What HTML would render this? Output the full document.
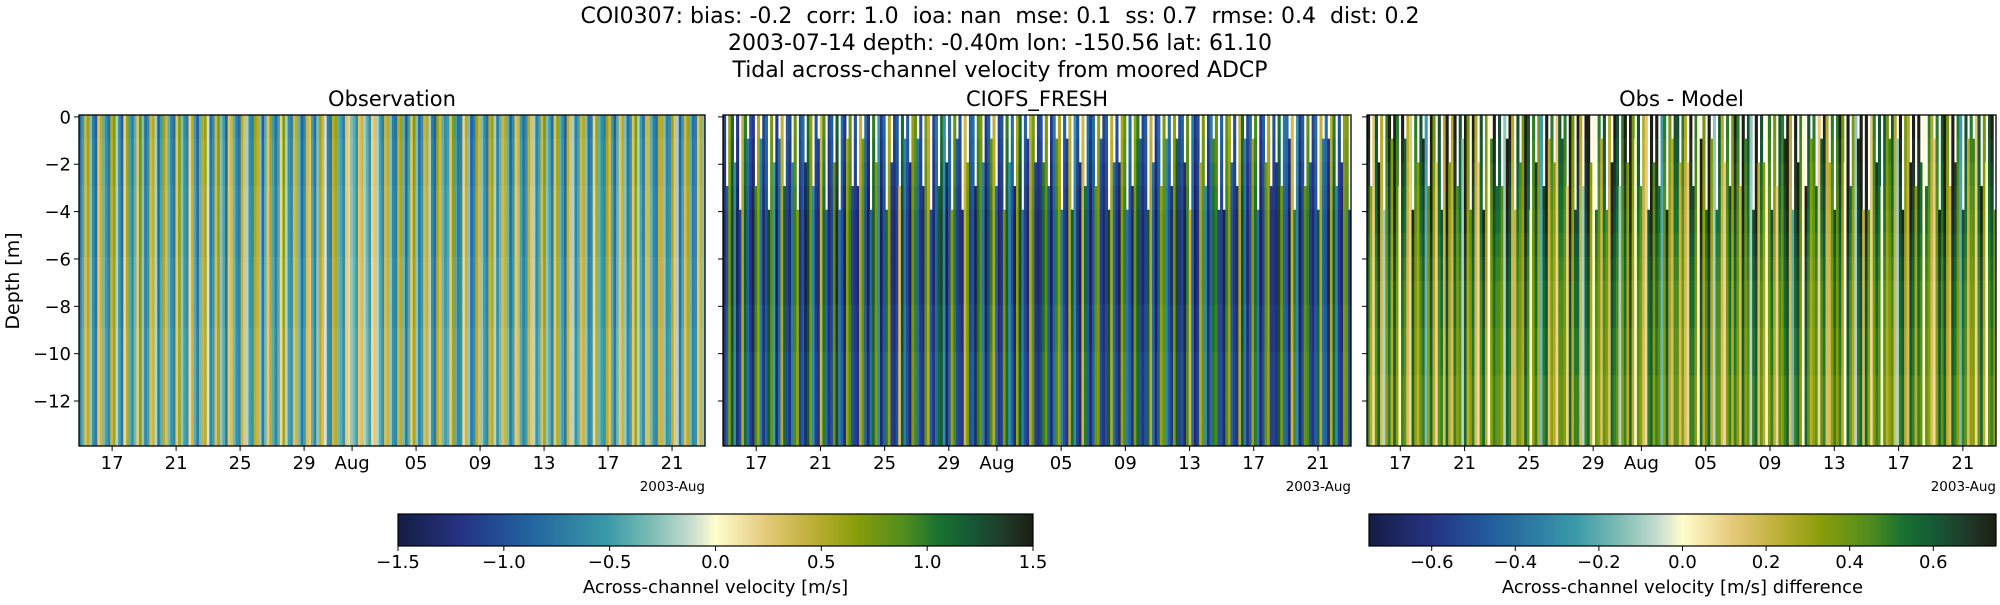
<!DOCTYPE html>
<html><head><meta charset="utf-8">
<style>
body{margin:0;background:#fff;}
svg text{font-family:"DejaVu Sans","Liberation Sans",sans-serif;fill:#000;white-space:pre;}
</style></head>
<body>
<svg id="fig" width="2000" height="600" viewBox="0 0 2000 600" xmlns="http://www.w3.org/2000/svg">
<defs>
<linearGradient id="cm" x1="0" x2="1" y1="0" y2="0">
<stop offset="0" stop-color="#151d44"/><stop offset="0.1" stop-color="#253383"/>
<stop offset="0.2" stop-color="#22609e"/><stop offset="0.33" stop-color="#3a9aa8"/>
<stop offset="0.4" stop-color="#7dbdb4"/><stop offset="0.46" stop-color="#c5dcd0"/>
<stop offset="0.5" stop-color="#fffdcd"/><stop offset="0.58" stop-color="#e5c97a"/>
<stop offset="0.66" stop-color="#b9ad32"/><stop offset="0.72" stop-color="#8a9e0a"/>
<stop offset="0.8" stop-color="#4f8c1e"/><stop offset="0.85" stop-color="#1a7230"/>
<stop offset="0.9" stop-color="#155a35"/><stop offset="0.95" stop-color="#1f3d2a"/>
<stop offset="1" stop-color="#1d1f14"/>
</linearGradient>
</defs>
<text x="1000" y="23" font-size="22" text-anchor="middle" xml:space="preserve">COI0307: bias: -0.2  corr: 1.0  ioa: nan  mse: 0.1  ss: 0.7  rmse: 0.4  dist: 0.2</text>
<text x="1000" y="50" font-size="22" text-anchor="middle">2003-07-14 depth: -0.40m lon: -150.56 lat: 61.10</text>
<text x="1000" y="77" font-size="22" text-anchor="middle">Tidal across-channel velocity from moored ADCP</text>
<text x="0" y="0" font-size="19" text-anchor="middle" transform="translate(19,281) rotate(-90)">Depth [m]</text>
<g id="panels"></g>
<g id="cbars"></g>
</svg>
<script>
// ---- data ----
const obsValues = [
-0.8,-0.5,0.4,0.6,-0.3,-0.7,-0.9,0.3,0.5,-0.4,
-0.6,-0.8,0.5,0.7,-0.2,-0.6,-0.9,0.2,0.6,-0.5,
-0.7,-0.4,0.3,0.8,-0.3,-0.8,-0.6,0.4,0.5,-0.2,
-0.9,-0.5,0.6,0.4,-0.4,-0.7,-0.8,0.3,0.7,-0.3,
-0.6,-0.7,0.2,0.5,-0.5,-0.9,-0.4,0.5,0.6,-0.1,
-0.8,-0.6,0.4,0.7,-0.3,-0.5,-0.9,0.3,0.4,-0.4,
-0.7,-0.8,0.5,0.3,-0.2,-0.6,-0.7,0.6,0.5,-0.3,
-0.9,-0.4,0.3,0.6,-0.5,-0.8,-0.5,0.2,0.7,-0.2,
-0.6,-0.7,0.4,0.5,-0.4,-0.9,-0.6,0.4,0.3,-0.5,
-0.8,-0.3,0.6,0.4,-0.1,-0.7,-0.8,0.5,0.6,-0.4,
-0.5,-0.7,0.3,0.2,-0.3,-0.4,-0.6,0.3,0.4,-0.2,
-0.4,-0.6,0.2,0.3,-0.2,-0.5,-0.7,0.4,0.5,-0.3,
-0.7,-0.8,0.5,0.6,-0.4,-0.9,-0.5,0.3,0.7,-0.3,
-0.8,-0.6,0.4,0.5,-0.2,-0.7,-0.9,0.6,0.4,-0.4,
-0.6,-0.5,0.3,0.7,-0.5,-0.8,-0.7,0.2,0.5,-0.3,
-0.9,-0.7,0.6,0.4,-0.3,-0.6,-0.8,0.5,0.6,-0.2,
-0.7,-0.4,0.4,0.5,-0.4,-0.9,-0.6,0.3,0.4,-0.5,
-0.8,-0.6,0.5,0.3,-0.2,-0.7,-0.5,0.4,0.7,-0.3,
-0.5,-0.8,0.3,0.6,-0.4,-0.6,-0.9,0.5,0.3,-0.2,
-0.7,-0.5,0.4,0.5,-0.3,-0.8,-0.7,0.2,0.6,-0.4,
-0.6,-0.7,0.6,0.4,-0.5,-0.9,-0.4,0.3,0.5,-0.3,
-0.8,-0.6,0.3,0.7,-0.2,-0.5,-0.8,0.4,0.4,-0.4,
-0.7,-0.8,0.5,0.5,-0.3,-0.7,-0.6,0.6,0.3,-0.2,
-0.9,-0.5,0.4,0.6,-0.4,-0.8,-0.7,0.3,0.5,-0.3];
const modelValues = [
-1.2,-0.9,0.7,1.2,-0.6,-1.3,-1.0,0.5,1.1,-0.8,
-1.1,-1.3,0.9,0.6,-0.7,-1.2,-0.9,1.2,0.8,-0.5,
-1.3,-0.8,0.5,1.1,-1.0,-1.2,-0.7,0.9,0.6,-1.1,
-0.9,-1.3,1.2,0.7,-0.6,-1.1,-1.2,0.4,1.0,-0.8,
-1.2,-1.0,0.8,1.3,-0.7,-0.9,-1.3,0.6,0.9,-1.0,
-1.1,-1.2,0.5,0.8,-0.9,-1.3,-0.8,1.1,0.7,-0.6,
-1.3,-0.9,1.0,0.6,-1.1,-1.2,-1.0,0.3,1.2,-0.7,
-1.0,-1.3,0.7,0.9,-0.8,-1.1,-1.2,0.8,0.5,-0.9,
-1.2,-0.8,1.1,1.2,-0.6,-1.3,-0.9,0.6,0.9,-1.0,
-1.1,-1.2,0.4,0.7,-1.0,-0.9,-1.3,1.0,0.8,-0.7,
-1.3,-1.0,0.9,0.5,-0.8,-1.2,-1.1,0.7,1.1,-0.6,
-0.9,-1.3,0.6,1.2,-0.7,-1.0,-1.2,0.5,0.8,-1.1,
-1.2,-1.1,1.0,0.8,-0.9,-1.3,-0.8,0.9,0.6,-0.7,
-1.0,-1.2,0.5,1.1,-0.6,-1.1,-1.3,0.4,1.0,-0.9,
-1.3,-0.9,0.8,0.7,-1.0,-1.2,-1.0,1.2,0.5,-0.8,
-1.1,-1.3,0.6,0.9,-0.7,-0.9,-1.2,0.7,1.1,-1.0,
-1.2,-1.0,1.1,0.5,-0.8,-1.3,-0.9,0.6,0.8,-0.6,
-0.9,-1.2,0.7,1.2,-1.1,-1.0,-1.3,0.9,0.4,-0.8,
-1.3,-1.1,0.5,0.8,-0.6,-1.2,-0.8,1.0,0.9,-1.0,
-1.0,-1.3,0.9,0.6,-0.9,-1.1,-1.2,0.5,1.2,-0.7,
-1.2,-0.9,0.6,1.0,-0.7,-1.3,-1.0,0.8,0.6,-1.1,
-1.1,-1.2,1.2,0.7,-0.8,-0.9,-1.3,0.4,0.9,-0.6,
-1.3,-1.0,0.8,0.9,-1.0,-1.2,-0.9,1.1,0.5,-0.8,
-0.9,-1.3,0.5,1.1,-0.6,-1.1,-1.2,0.7,0.8,-1.0];
const diffValues = [
0.6,0.3,0.1,0.5,0.7,0.2,-0.1,0.4,0.6,0.3,
0.7,0.4,0.0,0.6,0.5,0.2,0.1,0.7,0.4,0.3,
0.5,0.6,-0.2,0.4,0.7,0.3,0.1,0.5,0.6,0.2,
0.7,0.3,0.2,0.6,0.4,0.5,-0.1,0.7,0.3,0.4,
0.6,0.2,0.1,0.5,0.7,0.3,0.0,0.4,0.6,0.5,
0.5,0.4,-0.1,0.7,0.6,0.2,0.2,0.5,0.4,0.3,
0.7,0.5,0.0,0.4,0.6,0.3,-0.2,0.6,0.7,0.2,
0.4,0.3,0.1,0.5,0.5,0.4,0.1,0.7,0.3,0.6,
0.6,0.2,-0.1,0.6,0.7,0.3,0.0,0.5,0.4,0.2,
0.5,0.4,0.2,0.7,0.6,0.5,-0.1,0.4,0.6,0.3,
0.7,0.3,0.0,0.5,0.4,0.2,0.1,0.6,0.7,0.4,
0.6,0.5,-0.2,0.4,0.7,0.3,0.2,0.5,0.5,0.2,
0.4,0.2,0.1,0.6,0.6,0.4,0.0,0.7,0.3,0.5,
0.7,0.3,-0.1,0.5,0.5,0.2,0.1,0.4,0.6,0.3,
0.6,0.4,0.2,0.7,0.4,0.5,-0.1,0.6,0.7,0.2,
0.5,0.3,0.0,0.4,0.6,0.3,0.1,0.5,0.4,0.6,
0.7,0.2,-0.2,0.6,0.7,0.4,0.0,0.7,0.5,0.3,
0.4,0.5,0.1,0.5,0.6,0.2,0.2,0.4,0.6,0.4,
0.6,0.3,0.0,0.7,0.5,0.3,-0.1,0.6,0.7,0.2,
0.7,0.4,0.1,0.4,0.6,0.5,0.0,0.5,0.3,0.4,
0.5,0.2,-0.1,0.6,0.7,0.3,0.2,0.7,0.6,0.3,
0.6,0.5,0.0,0.5,0.4,0.2,0.1,0.4,0.7,0.5,
0.7,0.3,0.2,0.7,0.6,0.4,-0.2,0.6,0.5,0.2,
0.4,0.4,0.1,0.5,0.7,0.3,0.0,0.5,0.6,0.4];
const nanRows = [
0,3,0,0,2,0,4,0,0,1,
0,0,3,0,1,0,0,4,0,2,
0,1,0,3,0,0,2,0,4,0,
0,2,0,0,3,0,1,0,0,4,
0,0,2,0,4,0,0,1,0,3,
0,3,0,1,0,0,4,0,2,0,
0,0,4,0,2,0,0,3,0,1,
0,2,0,0,1,0,3,0,0,4,
0,0,3,0,0,2,0,4,0,1,
0,4,0,2,0,0,3,0,0,2,
0,0,1,0,3,0,0,4,0,2,
0,3,0,0,4,0,1,0,0,2,
0,0,2,0,3,0,0,1,0,4,
0,1,0,4,0,0,2,0,3,0,
0,0,3,0,1,0,0,4,0,2,
0,2,0,0,4,0,3,0,0,1,
0,0,4,0,2,0,0,3,0,1,
0,3,0,1,0,0,2,0,4,0,
0,0,2,0,3,0,0,1,0,4,
0,4,0,0,2,0,3,0,0,1,
0,0,1,0,4,0,0,2,0,3,
0,2,0,3,0,0,1,0,4,0,
0,0,3,0,2,0,0,4,0,1,
0,1,0,0,3,0,2,0,0,4];
const obsRowScale = [1.0,0.95,0.95,0.9,0.9,0.9,0.85,0.85,0.85,0.8,0.8,0.8,0.8,0.8];
const modelRowScale = [0.9,0.95,1.0,1.05,1.1,1.1,1.1,1.1,1.05,1.05,1.0,1.0,1.0,1.0];
const diffRowScale = [1.25,1.2,1.15,1.1,1.05,1.0,0.95,0.9,0.9,0.85,0.85,0.8,0.8,0.8];
const xTickDays = [17,21,25,29,32,36,40,44,48,52];
const xTickLabels = ["17","21","25","29","Aug","05","09","13","17","21"];
const yTicks = [0,-2,-4,-6,-8,-10,-12];
const cbTicks1 = [-1.5,-1.0,-0.5,0.0,0.5,1.0,1.5];
const cbTicks2 = [-0.6,-0.4,-0.2,0.0,0.2,0.4,0.6];
const dayStart = 14.93, dayEnd = 54.06, stepDays = 0.163;
const depthTop = 0.08, depthBottom = -13.9;

// ---- colormap ----
const stops = [[0,"#151d44"],[0.1,"#253383"],[0.2,"#22609e"],[0.33,"#3a9aa8"],[0.4,"#7dbdb4"],[0.46,"#c5dcd0"],[0.5,"#fffdcd"],[0.58,"#e5c97a"],[0.66,"#b9ad32"],[0.72,"#8a9e0a"],[0.8,"#4f8c1e"],[0.85,"#1a7230"],[0.9,"#155a35"],[0.95,"#1f3d2a"],[1,"#1d1f14"]];
function hex(h){return [1,3,5].map(i=>parseInt(h.substr(i,2),16));}
function cmap(f){f=Math.max(0,Math.min(1,f));for(let i=1;i<stops.length;i++){if(f<=stops[i][0]){const a=stops[i-1],b=stops[i];const t=(f-a[0])/(b[0]-a[0]);const ca=hex(a[1]),cb=hex(b[1]);return "rgb("+ca.map((v,k)=>Math.round(v+(cb[k]-v)*t)).join(",")+")";}}return stops[stops.length-1][1];}

const NS="http://www.w3.org/2000/svg";
function mk(tag,attrs,parent){const e=document.createElementNS(NS,tag);for(const k in attrs)e.setAttribute(k,attrs[k]);parent.appendChild(e);return e;}

const panelsG=document.getElementById('panels');
const panels=[
 {name:"observation",title:"Observation",x0:79,x1:705,vals:obsValues,rows:obsRowScale,vmax:1.5,nan:false,ylabels:true},
 {name:"ciofs-fresh",title:"CIOFS_FRESH",x0:723,x1:1351,vals:modelValues,rows:modelRowScale,vmax:1.5,nan:true,ylabels:false},
 {name:"obs-minus-model",title:"Obs - Model",x0:1367,x1:1996,vals:diffValues,rows:diffRowScale,vmax:0.75,nan:true,ylabels:false}
];
const yTop=115,yBot=446;
function yScale(d){return yTop+(depthTop-d)/(depthTop-depthBottom)*(yBot-yTop);}

panels.forEach(p=>{
 const g=mk('g',{},panelsG);
 
 
 const xs=d=>p.x0+(d-dayStart)/(dayEnd-dayStart)*(p.x1-p.x0);
 const cw=xs(dayStart+stepDays)-xs(dayStart);
 const cells=mk('g',{},g);
 
 
 p.vals.forEach((v,i)=>{
  const d=dayStart+i*stepDays;
  const x=xs(d); if(x>=p.x1) return;
  const w=Math.min(cw+0.5,p.x1-x);
  p.rows.forEach((s,r)=>{
   if(p.nan && r<nanRows[i]) return;
   const dt=depthTop-r, db=Math.max(depthBottom,depthTop-r-1);
   const y0=yScale(dt),y1=yScale(db);
   const c=mk('rect',{x:x.toFixed(2),y:y0.toFixed(2),width:w.toFixed(2),height:(y1-y0+0.4).toFixed(2),fill:cmap((v*s/p.vmax+1)/2)},cells);
   
   
  });
 });
 const fr=mk('rect',{x:p.x0,y:yTop,width:p.x1-p.x0,height:yBot-yTop,fill:'none',stroke:'#000','stroke-width':1.3},g);
 
 
 const t=mk('text',{x:(p.x0+p.x1)/2,y:106,'font-size':21,'text-anchor':'middle'},g);
 t.textContent=p.title;
 
 
 xTickDays.forEach((d,i)=>{
  const x=xs(d);
  mk('line',{x1:x,x2:x,y1:yBot,y2:yBot+5,stroke:'#000','stroke-width':1},g);
  const tl=mk('text',{x:x,y:469,'font-size':18,'text-anchor':'middle'},g);
  tl.textContent=xTickLabels[i];
  
  
 });
 const off=mk('text',{x:p.x1,y:491,'font-size':13.5,'text-anchor':'end'},g);
 off.textContent="2003-Aug";
 
 
 yTicks.forEach(v=>{
  const y=yScale(v);
  mk('line',{x1:p.x0-5,x2:p.x0,y1:y,y2:y,stroke:'#000','stroke-width':1},g);
  if(p.ylabels){
   const yl=mk('text',{x:p.x0-8,y:y+6.5,'font-size':18,'text-anchor':'end'},g);
   yl.textContent=(v<0?"\u2212"+(-v):String(v));
   
   
  }
 });
});

// colorbars
const cbG=document.getElementById('cbars');
[{name:"velocity-colorbar",x0:398,x1:1033,vmax:1.5,ticks:cbTicks1,label:"Across-channel velocity [m/s]",fmt:1},
 {name:"difference-colorbar",x0:1369,x1:1996,vmax:0.75,ticks:cbTicks2,label:"Across-channel velocity [m/s] difference",fmt:1}].forEach(c=>{
 const g=mk('g',{},cbG);
 
 
 mk('rect',{x:c.x0,y:514,width:c.x1-c.x0,height:32,fill:'url(#cm)',stroke:'#000','stroke-width':1.2},g);
 c.ticks.forEach(v=>{
  const x=c.x0+(v+c.vmax)/(2*c.vmax)*(c.x1-c.x0);
  mk('line',{x1:x,x2:x,y1:546,y2:551,stroke:'#000','stroke-width':1},g);
  const tl=mk('text',{x:x,y:568,'font-size':18,'text-anchor':'middle'},g);
  tl.textContent=(v<0?"\u2212":"")+Math.abs(v).toFixed(c.fmt);
  
  
 });
 const lb=mk('text',{x:(c.x0+c.x1)/2,y:593,'font-size':18,'text-anchor':'middle'},g);
 lb.textContent=c.label;
 
 
});
</script>
</body></html>
